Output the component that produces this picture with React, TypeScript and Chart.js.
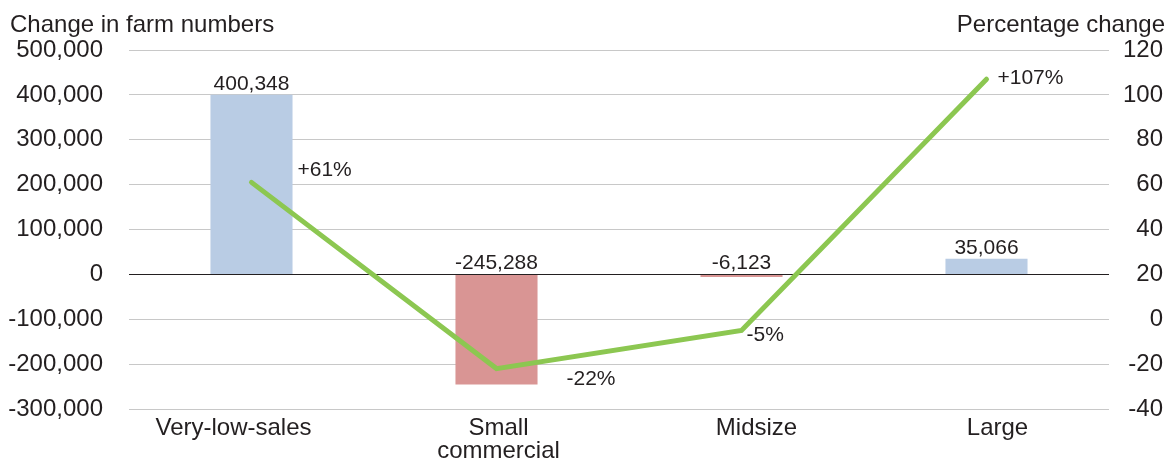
import React, { useEffect, useRef } from "react";
import { Chart, registerables } from "chart.js";

Chart.register(...registerables);

// ---- Data ----
const categories: string[][] = [["Very-low-sales"], ["Small", "commercial"], ["Midsize"], ["Large"]];
const farmChange: number[] = [400348, -245288, -6123, 35066];
const pctChange: number[] = [61, -22, -5, 107];
const leftTitle = "Change in farm numbers";
const rightTitle = "Percentage change";
const leftMin = -300000;
const leftMax = 500000;
const leftStep = 100000;
const rightMin = -40;
const rightMax = 120;
const rightStep = 20;

// ---- Styles ----
const FONT = "'Liberation Sans', Arial, Helvetica, sans-serif";
const TEXT = "#231f20";
const POS_COLOR = "#b9cce4";
const NEG_COLOR = "#d99594";
const LINE_COLOR = "#8cc751";
const GRID_COLOR = "#c8c8c8";
// label offsets relative to line points (dx, dy)
const pctLabelOffsets: number[][] = [[46, -12], [70, 11], [5, 5], [11, -1]];
// horizontal offsets of category labels relative to category centre
const catLabelDx: number[] = [-18, 2, 15, 11];

const fmt = (v: number) => v.toLocaleString("en-US");
const fmtPct = (v: number) => (v > 0 ? "+" : "") + v + "%";

const labelPlugin = {
  id: "customLabels",
  afterDatasetsDraw(chart: any) {
    const ctx = chart.ctx;
    const yScale = chart.scales.y;
    const xScale = chart.scales.x;
    const zero = yScale.getPixelForValue(0);
    ctx.save();
    // bar labels
    const barMeta = chart.getDatasetMeta(1);
    ctx.font = `21px ${FONT}`;
    ctx.fillStyle = TEXT;
    ctx.textAlign = "center";
    ctx.textBaseline = "alphabetic";
    barMeta.data.forEach((bar: any, i: number) => {
      const v = farmChange[i];
      const y = v >= 0 ? bar.y - 5 : zero - 5;
      ctx.fillText(fmt(v), bar.x, y);
    });
    // line labels
    const lineMeta = chart.getDatasetMeta(0);
    ctx.textAlign = "left";
    ctx.textBaseline = "middle";
    lineMeta.data.forEach((pt: any, i: number) => {
      const [dx, dy] = pctLabelOffsets[i];
      ctx.fillText(fmtPct(pctChange[i]), pt.x + dx, pt.y + dy);
    });
    // category labels
    ctx.font = `24px ${FONT}`;
    ctx.textAlign = "center";
    ctx.textBaseline = "alphabetic";
    const base = chart.chartArea.bottom + 26;
    categories.forEach((lines, i) => {
      const x = xScale.getPixelForValue(i) + catLabelDx[i];
      lines.forEach((line, j) => {
        ctx.fillText(line, x, base + j * 23);
      });
    });
    ctx.restore();
  },
  afterDraw(chart: any) {
    const ctx = chart.ctx;
    ctx.save();
    ctx.font = `24px ${FONT}`;
    ctx.fillStyle = TEXT;
    ctx.textBaseline = "alphabetic";
    ctx.textAlign = "left";
    ctx.fillText(leftTitle, 10, 32);
    ctx.textAlign = "right";
    ctx.fillText(rightTitle, 1165, 32);
    ctx.restore();
  },
};

export default function App() {
  const canvasRef = useRef<HTMLCanvasElement | null>(null);

  useEffect(() => {
    document.body.style.margin = "0";
    const canvas = canvasRef.current;
    if (!canvas) return;
    const chart = new Chart(canvas, {
      type: "bar",
      data: {
        labels: categories.map((c) => c.join(" ")),
        datasets: [
          {
            type: "line",
            label: "Percentage change",
            data: pctChange,
            yAxisID: "y1",
            borderColor: LINE_COLOR,
            borderWidth: 5,
            pointRadius: 0,
            borderCapStyle: "round",
            tension: 0,
            fill: false,
            order: 0,
          } as any,
          {
            type: "bar",
            label: "Change in farm numbers",
            data: farmChange,
            yAxisID: "y",
            backgroundColor: (c: any) => ((c.raw ?? 0) >= 0 ? POS_COLOR : NEG_COLOR),
            barPercentage: 0.335,
            categoryPercentage: 1,
            order: 1,
          } as any,
        ],
      },
      options: {
        responsive: false,
        animation: false,
        layout: { padding: { top: 50, left: 0, right: 7, bottom: 0 } },
        plugins: {
          legend: { display: false },
          tooltip: { enabled: false },
          title: { display: false },
        },
        scales: {
          x: {
            grid: { display: false, drawTicks: false },
            border: { display: false },
            ticks: { display: false },
            afterFit: (s: any) => {
              s.height = 52;
            },
          },
          y: {
            position: "left",
            min: leftMin,
            max: leftMax,
            grid: {
              drawTicks: false,
              color: (c: any) => (c.tick && c.tick.value === 0 ? TEXT : GRID_COLOR),
              lineWidth: 1,
            },
            border: { display: false },
            ticks: {
              stepSize: leftStep,
              color: TEXT,
              font: { family: FONT, size: 24 },
              padding: 26,
              callback: (v: any) => fmt(Number(v)),
            },
            afterFit: (s: any) => {
              s.width = 129;
            },
          },
          y1: {
            position: "right",
            min: rightMin,
            max: rightMax,
            grid: { display: false, drawTicks: false },
            border: { display: false },
            ticks: {
              stepSize: rightStep,
              color: TEXT,
              font: { family: FONT, size: 24 },
              padding: 8,
              crossAlign: "far",
            },
            afterFit: (s: any) => {
              s.width = 54;
            },
          },
        },
      } as any,
      plugins: [labelPlugin],
    });
    return () => chart.destroy();
  }, []);

  return (
    <div style={{ position: "absolute", left: 0, top: 0, width: 1170, height: 461 }}>
      <canvas ref={canvasRef} width={1170} height={461} />
    </div>
  );
}
